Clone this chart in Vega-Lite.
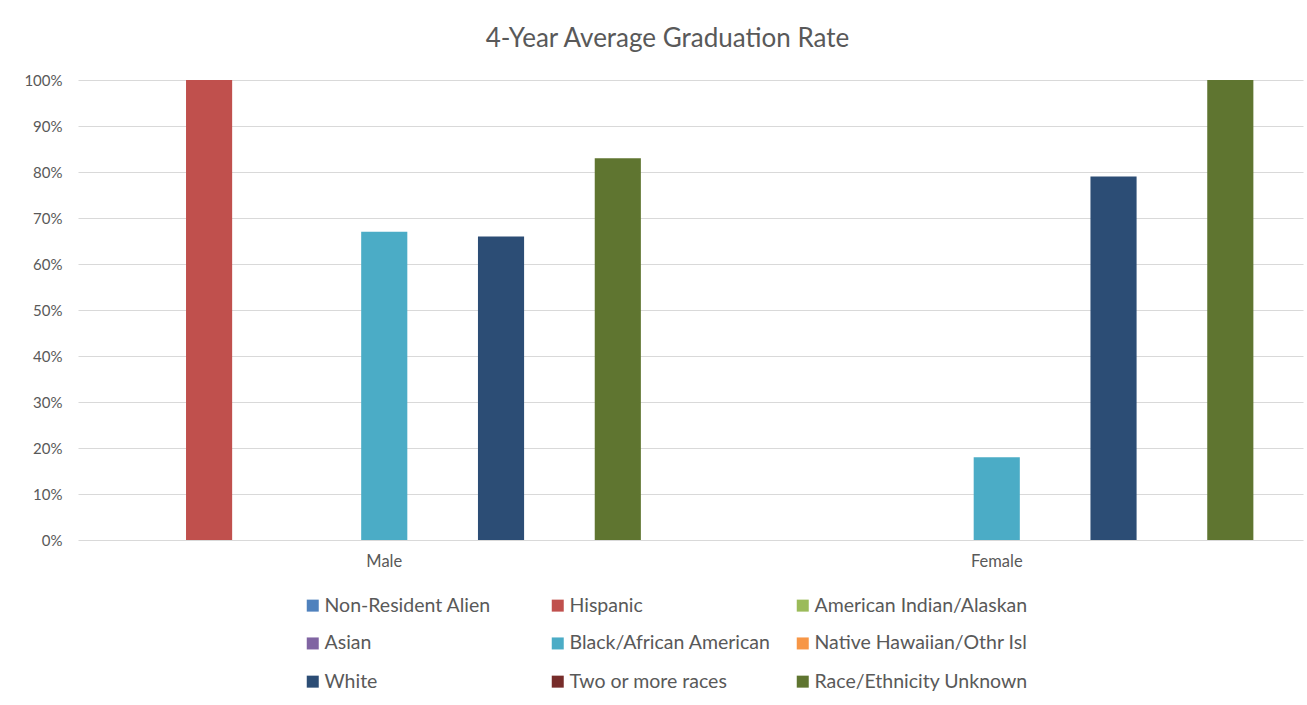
{
  "$schema": "https://vega.github.io/schema/vega-lite/v6.json",
  "width": 1225,
  "height": 460,
  "autosize": {"type": "none"},
  "padding": {"left": 78, "top": 80, "right": 4, "bottom": 165},
  "background": "white",
  "title": {
    "text": "4-Year Average Graduation Rate",
    "font": "Lato",
    "fontSize": 26,
    "fontWeight": "normal",
    "color": "#595959",
    "anchor": "middle",
    "frame": "group",
    "offset": 21,
    "dx": -23
  },
  "data": {
    "values": [
      {"gender": "Male", "race": "Hispanic", "rate": 1.0},
      {"gender": "Male", "race": "Black/African American", "rate": 0.67},
      {"gender": "Male", "race": "White", "rate": 0.66},
      {"gender": "Male", "race": "Race/Ethnicity Unknown", "rate": 0.83},
      {"gender": "Female", "race": "Black/African American", "rate": 0.18},
      {"gender": "Female", "race": "White", "rate": 0.79},
      {"gender": "Female", "race": "Race/Ethnicity Unknown", "rate": 1.0}
    ]
  },
  "mark": {"type": "bar"},
  "encoding": {
    "x": {
      "field": "gender",
      "type": "nominal",
      "sort": ["Male", "Female"],
      "scale": {"paddingInner": 0, "paddingOuter": 0},
      "axis": {
        "title": null,
        "labelAngle": 0,
        "domain": false,
        "ticks": false,
        "grid": false,
        "labelPadding": 13,
        "labelFont": "Lato",
        "labelFontSize": 16.5,
        "labelColor": "#595959"
      }
    },
    "xOffset": {
      "field": "race",
      "type": "nominal",
      "scale": {
        "domain": ["Non-Resident Alien", "Hispanic", "American Indian/Alaskan", "Asian", "Black/African American", "Native Hawaiian/Othr Isl", "White", "Two or more races", "Race/Ethnicity Unknown"],
        "paddingInner": 0.21,
        "paddingOuter": 0.85
      }
    },
    "y": {
      "field": "rate",
      "type": "quantitative",
      "scale": {"domain": [0, 1], "nice": false},
      "axis": {
        "title": null,
        "format": ".0%",
        "values": [0, 0.1, 0.2, 0.3, 0.4, 0.5, 0.6, 0.7, 0.8, 0.9, 1.0],
        "domain": false,
        "ticks": false,
        "labelPadding": 16,
        "labelFont": "Lato",
        "labelFontSize": 15,
        "labelColor": "#595959",
        "gridColor": "#d9d9d9",
        "gridWidth": 1
      }
    },
    "color": {
      "field": "race",
      "type": "nominal",
      "scale": {
        "domain": ["Non-Resident Alien", "Hispanic", "American Indian/Alaskan", "Asian", "Black/African American", "Native Hawaiian/Othr Isl", "White", "Two or more races", "Race/Ethnicity Unknown"],
        "range": ["#4F81BD", "#C0504D", "#9BBB59", "#8064A2", "#4BACC6", "#F79646", "#2C4D75", "#772C2A", "#5F7530"]
      },
      "legend": {
        "orient": "none",
        "direction": "horizontal",
        "legendX": 225,
        "legendY": 515.5,
        "columns": 3,
        "title": null,
        "padding": 0,
        "gridAlign": "all",
        "columnPadding": 10,
        "rowPadding": 17.2,
        "symbolType": "square",
        "symbolSize": 144,
        "symbolStrokeWidth": 0,
        "labelOffset": 2,
        "labelFont": "Lato",
        "labelFontSize": 19.5,
        "labelColor": "#595959",
        "labelLimit": 400
      }
    }
  },
  "config": {"view": {"stroke": null}}
}
